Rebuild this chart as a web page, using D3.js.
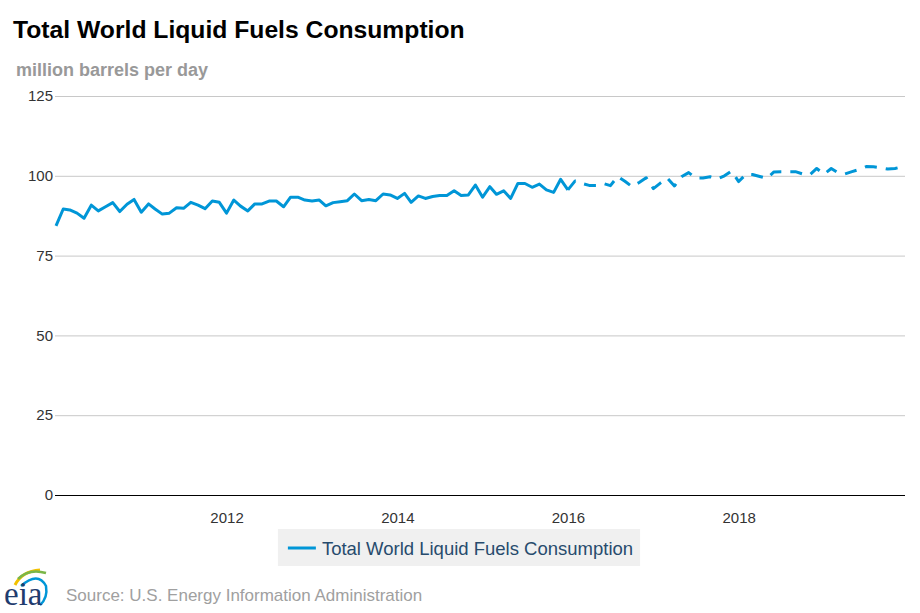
<!DOCTYPE html>
<html>
<head>
<meta charset="utf-8">
<script src="https://cdn.jsdelivr.net/npm/d3@7"></script>
<style>
  body { margin: 0; background: #fff; }
  svg { display: block; font-family: "Liberation Sans", Arial, sans-serif; }
</style>
</head>
<body>
<svg id="chart" width="920" height="613"></svg>
<script>
// monthly values, million barrels per day
const values2010 = [84.3, 89.6, 89.3, 88.3, 86.7, 90.8, 89.0, 90.3, 91.6, 88.8, 91.1, 92.6];
const values2011 = [88.6, 91.2, 89.6, 88.0, 88.3, 90.0, 89.8, 91.7, 90.8, 89.7, 92.1, 91.7];
const values2012 = [88.3, 92.4, 90.5, 89.0, 91.2, 91.2, 92.1, 92.1, 90.3, 93.3, 93.3, 92.4];
const values2013 = [92.1, 92.4, 90.6, 91.6, 91.9, 92.2, 94.3, 92.2, 92.6, 92.2, 94.3, 94.0];
const values2014 = [92.9, 94.5, 91.7, 93.7, 92.9, 93.5, 93.8, 93.8, 95.3, 93.8, 94.0, 97.1];
const values2015 = [93.3, 96.6, 94.2, 95.3, 92.9, 97.6, 97.6, 96.4, 97.4, 95.6, 94.8, 98.9];
const values2016 = [95.6, 98.4, 97.6, 97.0, 97.0, 97.6, 96.9, 99.8, 98.3, 96.6, 97.9, 99.4];
const values2017 = [96.0, 97.8, 99.3, 96.8, 99.7, 101.0, 99.3, 99.3, 99.7, 99.0, 100.0, 101.5];
const values2018 = [98.2, 100.5, 100.4, 99.8, 99.2, 101.2, 101.3, 101.3, 101.3, 100.6, 100.3, 102.3];
const values2019 = [100.5, 102.3, 101.0, 100.6, 101.3, 102.0, 102.9, 102.8, 102.5, 102.1, 102.3, 102.8];

const years = [2010, 2011, 2012, 2013, 2014, 2015, 2016, 2017, 2018, 2019];
const forecastStart = new Date(2016, 0, 1);   // dashed from here on
const xTickYears = [2012, 2014, 2016, 2018];
const yTicks = [0, 25, 50, 75, 100, 125];

const title = 'Total World Liquid Fuels Consumption';
const unitLabel = 'million barrels per day';
const seriesName = 'Total World Liquid Fuels Consumption';
const sourceText = 'Source: U.S. Energy Information Administration';

const lineColor = '#0096d7';

const yearly = [values2010, values2011, values2012, values2013, values2014,
                values2015, values2016, values2017, values2018, values2019];
const data = [];
years.forEach((yr, k) => {
  yearly[k].forEach((v, m) => data.push({ date: new Date(yr, m, 1), value: v }));
});

const svg = d3.select('#chart');
const plotLeft = 55, plotRight = 905, plotTop = 96, plotBottom = 495;

const x = d3.scaleTime()
  .domain([data[0].date, data[data.length - 1].date])
  .range([56, 902]);
const y = d3.scaleLinear()
  .domain([0, 125])
  .range([plotBottom, plotTop]);

// title + unit
svg.append('text')
  .attr('x', 13).attr('y', 38)
  .attr('font-size', 24.7).attr('font-weight', 'bold').attr('fill', '#000')
  .text(title);
svg.append('text')
  .attr('x', 16).attr('y', 76)
  .attr('font-size', 18).attr('font-weight', 'bold').attr('fill', '#999')
  .text(unitLabel);

// gridlines
svg.append('g')
  .selectAll('line')
  .data(yTicks.filter(d => d > 0))
  .enter().append('line')
  .attr('x1', plotLeft).attr('x2', plotRight)
  .attr('y1', d => y(d) + 0.5).attr('y2', d => y(d) + 0.5)
  .attr('stroke', '#c8c8c8');

// y labels
svg.append('g')
  .selectAll('text')
  .data(yTicks)
  .enter().append('text')
  .attr('x', 53).attr('y', d => y(d))
  .attr('dy', '0.35em')
  .attr('text-anchor', 'end')
  .attr('font-size', 15).attr('fill', '#333')
  .text(d => d);

// x axis
const xAxis = d3.axisBottom(x)
  .tickValues(xTickYears.map(yr => new Date(yr, 0, 1)))
  .tickFormat(d3.timeFormat('%Y'))
  .tickSize(0)
  .tickPadding(17);
const gx = svg.append('g')
  .attr('transform', `translate(0,${plotBottom + 0.5})`)
  .call(xAxis);
gx.select('.domain').remove();
gx.selectAll('text')
  .attr('font-size', 15).attr('fill', '#333')
  .attr('font-family', '"Liberation Sans", Arial, sans-serif');
svg.append('line')
  .attr('x1', plotLeft).attr('x2', plotRight)
  .attr('y1', plotBottom + 0.5).attr('y2', plotBottom + 0.5)
  .attr('stroke', '#000');

// series: history solid, forecast dashed
const line = d3.line()
  .x(d => x(d.date))
  .y(d => y(d.value));

const history = data.filter(d => d.date <= forecastStart);
const forecast = data.filter(d => d.date >= forecastStart);

svg.append('path')
  .datum(history)
  .attr('d', line)
  .attr('fill', 'none')
  .attr('stroke', lineColor)
  .attr('stroke-width', 3)
  .attr('stroke-linejoin', 'round');

svg.append('path')
  .datum(forecast)
  .attr('d', line)
  .attr('fill', 'none')
  .attr('stroke', lineColor)
  .attr('stroke-width', 3)
  .attr('stroke-dasharray', '12,9')
  .attr('stroke-linejoin', 'round');

// legend
const legend = svg.append('g');
const legendBg = legend.append('rect')
  .attr('fill', '#f0f0f0');
legend.append('line')
  .attr('stroke', lineColor).attr('stroke-width', 3);
const legendText = legend.append('text')
  .attr('font-size', 18.5).attr('fill', '#274b6d')
  .attr('y', 555)
  .text(seriesName);
const tw = legendText.node().getComputedTextLength();
const boxW = tw + 51;
const boxX = 459 - boxW / 2;
legendBg.attr('x', boxX).attr('y', 529).attr('width', boxW).attr('height', 37);
legend.select('line')
  .attr('x1', boxX + 10).attr('x2', boxX + 38)
  .attr('y1', 548).attr('y2', 548);
legendText.attr('x', boxX + 44);

// eia logo
const logo = svg.append('g');
logo.append('path')
  .attr('d', 'M15,585 Q22,571 40,570')
  .attr('fill', 'none').attr('stroke', '#f2c100').attr('stroke-width', 3);
logo.append('path')
  .attr('d', 'M18,579 Q29,568 46,573')
  .attr('fill', 'none').attr('stroke', '#7ab648').attr('stroke-width', 2.5);
logo.append('path')
  .attr('d', 'M21,586 Q38,571 46,586 Q48,598 40,605')
  .attr('fill', 'none').attr('stroke', '#0096d7').attr('stroke-width', 2.5);
logo.append('text')
  .attr('x', 4).attr('y', 605)
  .attr('font-family', '"Liberation Serif", "DejaVu Serif", serif')
  .attr('font-size', 33).attr('fill', '#1f3c6e')
  .text('eia');

// source
svg.append('text')
  .attr('x', 66).attr('y', 601)
  .attr('font-size', 17).attr('fill', '#a0a0a0')
  .text(sourceText);
</script>
</body>
</html>
